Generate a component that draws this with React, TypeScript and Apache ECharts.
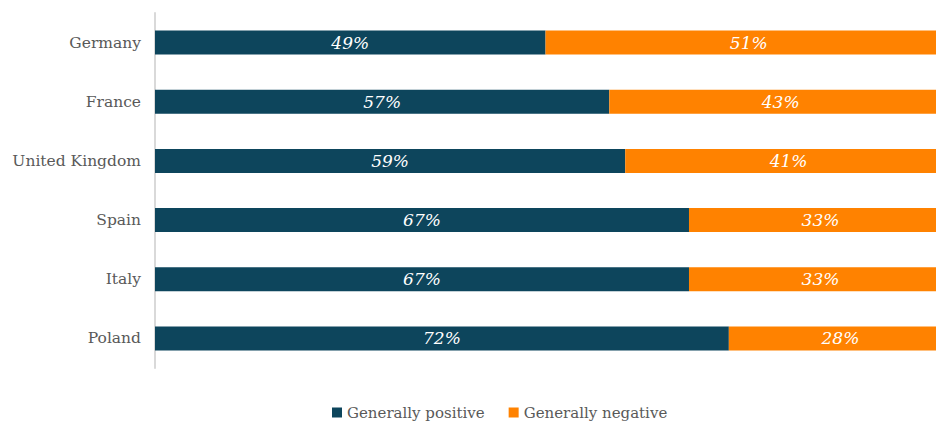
import React, { useEffect, useRef } from "react";
import * as echarts from "echarts";

const countries = ["Germany", "France", "United Kingdom", "Spain", "Italy", "Poland"];
const positive = [49, 57, 59, 67, 67, 72];
const negative = [51, 43, 41, 33, 33, 28];
const seriesNames = ["Generally positive", "Generally negative"];
const colors = ["#0d455c", "#ff8200"];

const FONT = "DejaVu Serif";

export default function App() {
  const ref = useRef<HTMLDivElement>(null);
  useEffect(() => {
    if (!ref.current) return;
    const chart = echarts.init(ref.current, undefined, { renderer: "svg" });
    const label = {
      show: true,
      position: "inside",
      color: "#ffffff",
      fontStyle: "italic",
      fontSize: 17,
      fontFamily: FONT,
      formatter: (p: any) => `${p.value}%`,
    };
    chart.setOption({
      animation: false,
      color: colors,
      textStyle: { fontFamily: FONT },
      grid: {
        left: 155,
        top: 13,
        bottom: 58,
        width: 797,
        containLabel: false,
        outerBoundsMode: "none",
      },
      legend: {
        bottom: 1,
        left: 327,
        itemWidth: 10,
        itemHeight: 10,
        itemGap: 24,
        icon: "rect",
        textStyle: { color: "#595959", fontSize: 15, fontFamily: FONT },
        data: seriesNames,
      },
      xAxis: {
        type: "value",
        min: 0,
        max: 100,
        show: false,
      },
      yAxis: {
        type: "category",
        inverse: true,
        data: countries,
        axisLine: { show: true, lineStyle: { color: "#d9d9d9", width: 2 } },
        axisTick: { show: false },
        axisLabel: { color: "#595959", fontSize: 15.5, fontFamily: FONT, margin: 14 },
      },
      series: [
        {
          name: seriesNames[0],
          type: "bar",
          stack: "total",
          barWidth: 24,
          data: positive,
          label,
        },
        {
          name: seriesNames[1],
          type: "bar",
          stack: "total",
          barWidth: 24,
          data: negative,
          label,
        },
      ],
    });
    return () => chart.dispose();
  }, []);
  return <div ref={ref} style={{ width: 936, height: 426, position: "absolute", left: 0, top: 0 }} />;
}
